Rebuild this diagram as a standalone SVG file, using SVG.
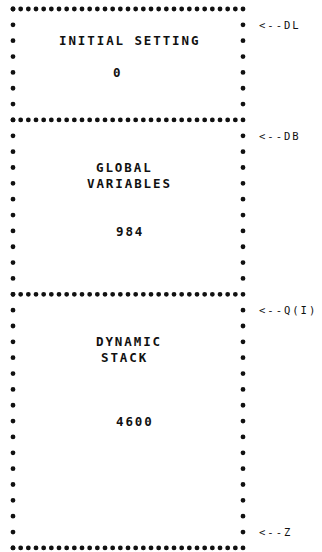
<svg xmlns="http://www.w3.org/2000/svg" width="322" height="552" viewBox="0 0 322 552">
<style>
.h{stroke:#111;stroke-width:4.8;stroke-linecap:round;stroke-dasharray:0 7.667;fill:none}
.v{stroke:#111;stroke-width:4.8;stroke-linecap:round;stroke-dasharray:0 15.85;fill:none}
.t{font-family:"DejaVu Sans Mono","Liberation Mono",monospace;font-size:12.5px;font-weight:bold;letter-spacing:1.9px;fill:#111}
.p{font-family:"DejaVu Sans Mono","Liberation Mono",monospace;font-size:10.5px;letter-spacing:2px;fill:#111}
</style>
<rect width="322" height="552" fill="#fff"/>
<g id="initial-setting">
<line class="h" x1="13" y1="9" x2="243" y2="9"/>
<line class="v" x1="13" y1="9" x2="13" y2="119.95"/>
<line class="v" x1="243" y1="9" x2="243" y2="119.95"/>
<text class="t" x="59" y="45.3">INITIAL SETTING</text>
<text class="t" x="113" y="77">0</text>
</g>
<g id="global-variables">
<line class="h" x1="13" y1="119.95" x2="243" y2="119.95"/>
<line class="v" x1="13" y1="119.95" x2="13" y2="294.3"/>
<line class="v" x1="243" y1="119.95" x2="243" y2="294.3"/>
<text class="t" x="96" y="172.1">GLOBAL</text>
<text class="t" x="87" y="187.9">VARIABLES</text>
<text class="t" x="116" y="235.5">984</text>
</g>
<g id="dynamic-stack">
<line class="h" x1="13" y1="294.3" x2="243" y2="294.3"/>
<line class="v" x1="13" y1="294.3" x2="13" y2="547.9"/>
<line class="v" x1="243" y1="294.3" x2="243" y2="547.9"/>
<line class="h" x1="13" y1="547.9" x2="243" y2="547.9"/>
<text class="t" x="96" y="346.4">DYNAMIC</text>
<text class="t" x="101" y="362.3">STACK</text>
<text class="t" x="116" y="425.7">4600</text>
</g>
<g id="pointers">
<text class="p" x="259" y="28.7">&lt;--DL</text>
<text class="p" x="259" y="139.6">&lt;--DB</text>
<text class="p" x="259" y="314">&lt;--Q(I)</text>
<text class="p" x="259" y="535.9">&lt;--Z</text>
</g>
</svg>
